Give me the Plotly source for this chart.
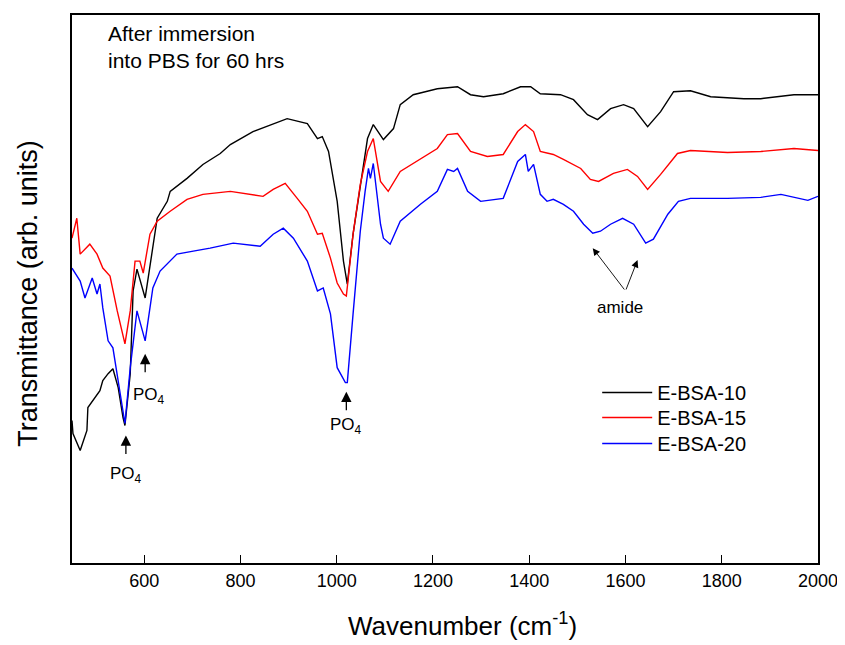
import plotly.graph_objects as go

# Wavenumber (cm^-1) and transmittance (arb. units)
wn_10 = [450, 452, 467, 481, 483, 494, 508, 514, 525, 535, 546, 556, 560, 571, 577, 585, 602,
         627, 648, 654, 689, 722, 758, 779, 826, 897, 939, 960, 970, 983, 1001, 1014, 1022,
         1034, 1049, 1064, 1076, 1091, 1097, 1118, 1132, 1159, 1209, 1251, 1278, 1305, 1346,
         1382, 1396, 1403, 1423, 1465, 1492, 1521, 1542, 1569, 1596, 1617, 1646, 1673, 1700,
         1735, 1777, 1846, 1881, 1950, 2000]
t_10 = [143, 130, 113, 133, 156, 163, 173, 183, 190, 195, 176, 146, 138, 190, 273, 295, 266,
        346, 363, 373, 386, 400, 411, 420, 433, 446, 441, 426, 428, 413, 363, 303, 280,
        330, 380, 426, 440, 430, 425, 436, 460, 470, 476, 478, 470, 468, 471,
        478, 478, 478, 471, 470, 465, 450, 445, 456, 460, 456, 438, 453, 473,
        474, 468, 466, 466, 470, 470]

wn_15 = [450, 460, 467, 487, 502, 514, 529, 544, 560, 571, 581, 591, 598, 612, 627, 654, 689,
         722, 779, 826, 847, 868, 893, 918, 939, 960, 970, 987, 1001, 1014, 1020, 1034, 1049,
         1064, 1076, 1091, 1107, 1132, 1174, 1209, 1230, 1251, 1278, 1313, 1346, 1376, 1392,
         1409, 1423, 1450, 1471, 1507, 1527, 1544, 1575, 1604, 1625, 1646, 1673, 1708, 1735,
         1812, 1881, 1950, 2000]
t_15 = [326, 346, 310, 320, 310, 296, 288, 253, 220, 253, 303, 303, 291, 330, 343, 353, 365,
        370, 373, 370, 368, 375, 381, 366, 353, 330, 331, 306, 281, 270, 268, 330, 380,
        413, 426, 383, 373, 393, 406, 416, 430, 431, 413, 408, 410, 433, 440,
        433, 413, 410, 405, 396, 385, 383, 391, 395, 388, 375, 390, 411, 414,
        412, 413, 416, 414]

wn_20 = [450, 467, 477, 492, 502, 508, 514, 525, 535, 546, 560, 571, 585, 602, 618, 633, 668,
         702, 737, 785, 841, 868, 889, 910, 939, 960, 972, 987, 1001, 1018, 1022, 1034, 1049,
         1059, 1066, 1070, 1076, 1091, 1097, 1111, 1132, 1174, 1209, 1230, 1243, 1251, 1272,
         1299, 1346, 1376, 1392, 1398, 1409, 1423, 1437, 1450, 1471, 1492, 1513, 1532, 1548,
         1569, 1594, 1617, 1642, 1658, 1688, 1710, 1735, 1812, 1881, 1923, 1964, 1979, 2000]
t_20 = [296, 283, 266, 286, 270, 280, 256, 223, 216, 183, 140, 196, 253, 223, 276, 293, 310,
        313, 316, 321, 318, 330, 336, 326, 303, 273, 276, 250, 196, 181, 181, 250, 333,
        373, 396, 386, 401, 340, 326, 320, 343, 360, 373, 395, 393, 396, 373,
        363, 366, 403, 410, 393, 400, 370, 363, 365, 360, 353, 340, 331, 333,
        340, 346, 340, 321, 325, 350, 363, 366, 366, 367, 370, 366, 364, 368]

series_names = ["E-BSA-10", "E-BSA-15", "E-BSA-20"]
series_colors = ["#000000", "#ff0000", "#0000ff"]
x_ticks = [600, 800, 1000, 1200, 1400, 1600, 1800, 2000]

FONT = "Arial, Liberation Sans, sans-serif"

legend_ids = ["legend", "legend2", "legend3"]
legend_ys = [0.311, 0.2655, 0.218]

fig = go.Figure()
for wn, t, name, col, lg in zip([wn_10, wn_15, wn_20], [t_10, t_15, t_20], series_names,
                                series_colors, legend_ids):
    fig.add_trace(go.Scatter(x=wn, y=t, mode="lines", name=name, legend=lg,
                             line=dict(color=col, width=1.4)))

ann = []
# "After immersion" note
ann.append(dict(x=0.046, y=0.99, xref="paper", yref="paper", xanchor="left", yanchor="top",
                text="After immersion<br>into PBS for 60 hrs", showarrow=False, align="left",
                font=dict(family=FONT, size=21, color="#000")))
# PO4 arrows (tip at band, tail below)
po4 = [(562, 128), (602, 210), (1020, 172)]
for xw, ytip in po4:
    ann.append(dict(x=xw, y=ytip, xref="x", yref="y", text="", showarrow=True,
                    ax=0, ay=20, arrowhead=2, arrowsize=1.6, arrowwidth=1.3, arrowcolor="#000"))
for xw, ylab in [(563, 88), (610, 168), (1020, 138)]:
    ann.append(dict(x=xw, y=ylab, xref="x", yref="y", showarrow=False,
                    text="PO<sub>4</sub>", font=dict(family=FONT, size=17, color="#000")))
# amide arrows
for xt, yt in [(1532, 316), (1625, 304)]:
    ann.append(dict(x=xt, y=yt, xref="x", yref="y", ax=1600, ay=273, axref="x", ayref="y",
                    text="", showarrow=True, arrowhead=2, arrowsize=1.6, arrowwidth=0.9,
                    arrowcolor="#000"))
ann.append(dict(x=1589, y=256, xref="x", yref="y", showarrow=False, text="amide",
                font=dict(family=FONT, size=17, color="#000")))
# axis titles
ann.append(dict(x=0.524, y=-0.113, xref="paper", yref="paper", showarrow=False,
                text="Wavenumber (cm<sup>-1</sup>)", xanchor="center", yanchor="middle",
                font=dict(family=FONT, size=26, color="#000")))
ann.append(dict(x=-0.059, y=0.493, xref="paper", yref="paper", showarrow=False,
                text="Transmittance (arb. units)", textangle=-90, xanchor="center",
                yanchor="middle", font=dict(family=FONT, size=27, color="#000")))

layout_legends = {}
for lg, ly in zip(legend_ids, legend_ys):
    layout_legends[lg] = dict(x=0.704, y=ly, xanchor="left", yanchor="middle",
                              bgcolor="rgba(0,0,0,0)", itemwidth=50,
                              font=dict(family=FONT, size=20, color="#000"))

fig.update_layout(
    width=837, height=637,
    margin=dict(l=64, r=27, t=5, b=82),
    paper_bgcolor="white", plot_bgcolor="white",
    font=dict(family=FONT, color="#000"),
    showlegend=True,
    annotations=ann,
    xaxis=dict(range=[450, 2000], tickvals=x_ticks, ticks="inside", ticklen=8,
               tickwidth=1.2, tickcolor="#000", showline=True, linecolor="#000", linewidth=1.8,
               mirror=True, showgrid=False, zeroline=False,
               tickfont=dict(family=FONT, size=18, color="#000")),
    yaxis=dict(range=[0, 550], showticklabels=False, ticks="", showline=True,
               linecolor="#000", linewidth=1.8, mirror=True, showgrid=False, zeroline=False),
    **layout_legends,
)

fig.write_html("out.html")
